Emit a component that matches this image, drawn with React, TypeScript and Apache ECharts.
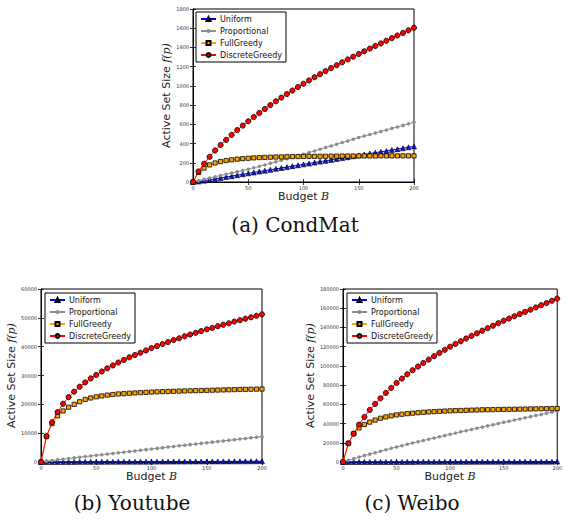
import React, { useEffect, useRef } from "react";
import * as echarts from "echarts";

const budgets = [0, 5, 10, 15, 20, 25, 30, 35, 40, 45, 50, 55, 60, 65, 70, 75, 80, 85, 90, 95, 100, 105, 110, 115, 120, 125, 130, 135, 140, 145, 150, 155, 160, 165, 170, 175, 180, 185, 190, 195, 200];

const seriesNames = ["Uniform", "Proportional", "FullGreedy", "DiscreteGreedy"];
const xTicks = { min: 0, max: 200, interval: 50 };

// (a) CondMat
const condUniform = [0, 5, 14, 23, 33, 42, 52, 61, 71, 80, 90, 99, 109, 118, 127, 137, 146, 155, 165, 174, 184, 193, 202, 212, 221, 230, 240, 249, 258, 268, 277, 286, 296, 305, 314, 323, 333, 342, 351, 361, 370];
const condProportional = [0, 14, 28, 42, 55, 68, 81, 94, 107, 120, 133, 148, 163, 178, 194, 210, 226, 242, 257, 273, 289, 306, 323, 341, 358, 375, 393, 410, 427, 445, 462, 478, 494, 510, 526, 542, 558, 573, 589, 605, 621];
const condFullGreedy = [0, 100, 145, 178, 198, 212, 223, 231, 238, 243, 247, 251, 254, 256, 258, 260, 261, 263, 264, 265, 266, 267, 267, 268, 268, 269, 269, 270, 270, 270, 271, 271, 271, 271, 272, 272, 272, 272, 272, 272, 272];
const condDiscreteGreedy = [0, 110, 190, 262, 328, 385, 438, 490, 540, 587, 632, 676, 718, 760, 800, 840, 878, 915, 952, 988, 1022, 1057, 1090, 1122, 1154, 1185, 1215, 1245, 1275, 1304, 1332, 1360, 1388, 1415, 1442, 1470, 1497, 1524, 1551, 1578, 1605];
const condY = { min: 0, max: 1800, interval: 200 };

// (b) Youtube
const ytUniform = [0, 6, 12, 19, 25, 31, 37, 44, 50, 56, 62, 69, 75, 81, 87, 94, 100, 106, 112, 119, 125, 131, 137, 144, 150, 156, 162, 169, 175, 181, 187, 194, 200, 206, 212, 219, 225, 231, 237, 244, 250];
const ytProportional = [0, 260, 510, 750, 980, 1210, 1430, 1650, 1870, 2090, 2310, 2530, 2750, 2970, 3190, 3410, 3630, 3850, 4070, 4290, 4510, 4730, 4950, 5170, 5380, 5600, 5810, 6030, 6240, 6460, 6670, 6890, 7100, 7320, 7530, 7740, 7950, 8160, 8380, 8590, 8800];
const ytFullGreedy = [0, 8900, 13300, 16000, 17700, 19000, 20000, 20900, 21700, 22200, 22600, 22900, 23200, 23400, 23600, 23700, 23850, 23950, 24050, 24150, 24250, 24330, 24400, 24460, 24520, 24580, 24640, 24700, 24750, 24800, 24850, 24900, 24950, 25000, 25050, 25100, 25150, 25200, 25240, 25270, 25300];
const ytDiscreteGreedy = [0, 8900, 13800, 17300, 20200, 22500, 24400, 26100, 27600, 29000, 30200, 31400, 32500, 33500, 34500, 35400, 36300, 37100, 37900, 38700, 39500, 40200, 40900, 41600, 42300, 42900, 43600, 44200, 44800, 45400, 46000, 46500, 47100, 47600, 48100, 48700, 49200, 49700, 50200, 50700, 51200];
const ytY = { min: 0, max: 60000, interval: 10000 };

// (c) Weibo
const wbUniform = [0, 10, 20, 30, 40, 50, 60, 70, 80, 90, 100, 110, 120, 130, 140, 150, 160, 170, 180, 190, 200, 210, 220, 230, 240, 250, 260, 270, 280, 290, 300, 310, 320, 330, 340, 350, 360, 370, 380, 390, 400];
const wbProportional = [0, 1800, 3500, 5100, 6700, 8200, 9700, 11200, 12700, 14200, 15600, 17000, 18400, 19800, 21100, 22400, 23700, 25000, 26300, 27600, 28800, 30100, 31400, 32600, 33900, 35100, 36300, 37600, 38800, 40000, 41300, 42400, 43600, 44800, 46000, 47200, 48400, 49500, 50700, 51800, 53000];
const wbFullGreedy = [0, 19400, 29500, 35500, 39000, 41500, 43600, 45500, 46900, 48000, 49000, 49700, 50300, 50800, 51300, 51700, 52100, 52400, 52700, 53000, 53200, 53400, 53600, 53800, 54000, 54100, 54300, 54400, 54500, 54600, 54700, 54800, 54900, 55000, 55100, 55200, 55300, 55400, 55500, 55600, 55700];
const wbDiscreteGreedy = [0, 19400, 29500, 38900, 46900, 54200, 60400, 66300, 71900, 77100, 82300, 86800, 91300, 95500, 99300, 103100, 106600, 110100, 113500, 116700, 120000, 122900, 125700, 128500, 131200, 133900, 136600, 139200, 141800, 144400, 147000, 149300, 151600, 153900, 156200, 158500, 160800, 163100, 165400, 167700, 170000];
const wbY = { min: 0, max: 180000, interval: 20000 };

const captions = ["(a) CondMat", "(b) Youtube", "(c) Weibo"];

const panels = [
  { data: [condUniform, condProportional, condFullGreedy, condDiscreteGreedy], y: condY, grid: { left: 193, top: 9, width: 221, height: 173 }, nameGap: 19, legend: { left: 196, top: 12 }, caption: { x: 295, y: 225 } },
  { data: [ytUniform, ytProportional, ytFullGreedy, ytDiscreteGreedy], y: ytY, grid: { left: 41, top: 289, width: 221, height: 173 }, nameGap: 24, legend: { left: 45, top: 293 }, caption: { x: 132, y: 503 } },
  { data: [wbUniform, wbProportional, wbFullGreedy, wbDiscreteGreedy], y: wbY, grid: { left: 343, top: 289, width: 220, height: 173 }, nameGap: 26, legend: { left: 347, top: 293 }, caption: { x: 412, y: 503 } },
];

const styles = [
  { line: "#0000ff", fill: "#1414d2", border: "#000", borderWidth: 0.6, symbol: "triangle", size: 5 },
  { line: "#8c8c8c", fill: "#8c8c8c", border: "#8c8c8c", borderWidth: 0, symbol: "circle", size: 3.5 },
  { line: "#ffa500", fill: "#ffa500", border: "#000", borderWidth: 0.8, symbol: "rect", size: 4.2 },
  { line: "#ff0000", fill: "#ff0000", border: "#000", borderWidth: 0.8, symbol: "circle", size: 5.2 },
];

const SANS = "DejaVu Sans";
const plain = (v: number) => String(v);

export default function App() {
  const ref = useRef<HTMLDivElement>(null);
  useEffect(() => {
    if (!ref.current) return;
    const chart = echarts.init(ref.current, undefined, { renderer: "svg" });
    const xAxis: any[] = [];
    const yAxis: any[] = [];
    const series: any[] = [];
    const tickStyle = { inside: true, length: 3, lineStyle: { color: "#000", width: 0.8 } };
    panels.forEach((p, i) => {
      xAxis[i] = {
        type: "value", gridIndex: i, position: "bottom", ...xTicks,
        axisLine: { show: true, lineStyle: { color: "#000", width: 1 } },
        axisTick: tickStyle,
        axisLabel: { fontSize: 5, color: "#333", margin: 3, fontFamily: SANS, formatter: plain },
        splitLine: { show: false },
        name: "Budget {i|B}", nameLocation: "middle", nameGap: 8,
        nameTextStyle: { fontSize: 11, fontFamily: SANS, color: "#222", rich: { i: { fontSize: 11, fontStyle: "italic", fontFamily: "DejaVu Serif", color: "#222" } } },
      };
      xAxis[i + 3] = {
        type: "value", gridIndex: i, position: "top", ...xTicks,
        axisLine: { show: true, lineStyle: { color: "#000", width: 1 } },
        axisTick: tickStyle, axisLabel: { show: false }, splitLine: { show: false },
      };
      yAxis[i] = {
        type: "value", gridIndex: i, position: "left", ...p.y,
        axisLine: { show: true, lineStyle: { color: "#000", width: 1 } },
        axisTick: tickStyle,
        axisLabel: { fontSize: 5, color: "#333", margin: 4, fontFamily: SANS, formatter: plain },
        splitLine: { show: false },
        name: "Active Set Size {i|f(p)}", nameLocation: "middle", nameGap: p.nameGap,
        nameTextStyle: { fontSize: 11, fontFamily: SANS, color: "#222", rich: { i: { fontSize: 11, fontStyle: "italic", fontFamily: "DejaVu Serif", color: "#222" } } },
      };
      yAxis[i + 3] = {
        type: "value", gridIndex: i, position: "right", ...p.y,
        axisLine: { show: true, lineStyle: { color: "#000", width: 1 } },
        axisTick: tickStyle, axisLabel: { show: false }, splitLine: { show: false },
      };
      p.data.forEach((vals, k) => {
        const s = styles[k];
        series.push({
          type: "line", name: seriesNames[k], xAxisIndex: i, yAxisIndex: i,
          data: budgets.map((b, j) => [b, vals[j]]),
          symbol: s.symbol, symbolSize: s.size, showSymbol: true,
          lineStyle: { color: s.line, width: 1 },
          itemStyle: { color: s.fill, borderColor: s.border, borderWidth: s.borderWidth },
          emphasis: { disabled: true }, clip: false, z: 2 + k,
        });
      });
    });
    chart.setOption({
      animation: false,
      grid: panels.map((p) => ({ ...p.grid, show: true, borderColor: "#000", borderWidth: 1, backgroundColor: "transparent" })),
      xAxis, yAxis, series,
      legend: panels.map((p) => ({
        data: seriesNames, orient: "vertical", left: p.legend.left, top: p.legend.top,
        padding: [3, 4, 3, 4], itemGap: 4, itemWidth: 15, itemHeight: 5,
        backgroundColor: "#fff", borderColor: "#000", borderWidth: 1, borderRadius: 0,
        textStyle: { fontSize: 8, fontFamily: SANS, color: "#111", padding: [0, 0, 0, -1] },
        selectedMode: false, z: 10,
      })),
      graphic: panels.map((p, i) => ({
        type: "text", x: p.caption.x, y: p.caption.y,
        style: { text: captions[i], fontSize: 20, fontFamily: "DejaVu Serif", fill: "#111", textAlign: "center", textVerticalAlign: "middle" },
      })),
    });
    return () => chart.dispose();
  }, []);
  return <div ref={ref} style={{ position: "fixed", left: 0, top: 0, width: 565, height: 521, background: "#fff" }} />;
}
